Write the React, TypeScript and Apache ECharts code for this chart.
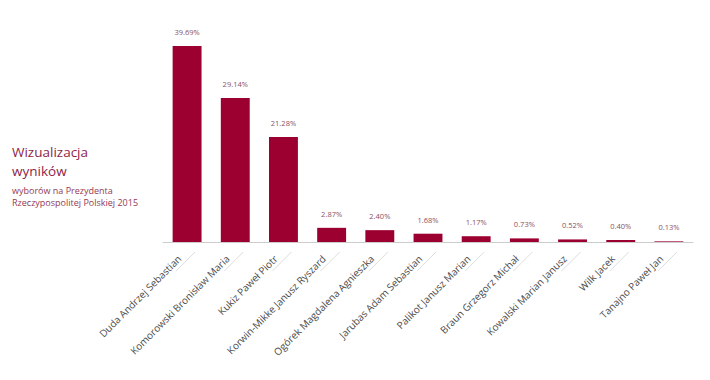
import React, { useEffect, useRef } from "react";
import * as echarts from "echarts";

const categories: string[] = [
  "Duda Andrzej Sebastian",
  "Komorowski Bronisław Maria",
  "Kukiz Paweł Piotr",
  "Korwin-Mikke Janusz Ryszard",
  "Ogórek Magdalena Agnieszka",
  "Jarubas Adam Sebastian",
  "Palikot Janusz Marian",
  "Braun Grzegorz Michał",
  "Kowalski Marian Janusz",
  "Wilk Jacek",
  "Tanajno Paweł Jan",
];

const votes: number[] = [39.69, 29.14, 21.28, 2.87, 2.4, 1.68, 1.17, 0.73, 0.52, 0.4, 0.13];

const titleLines: string[] = ["Wizualizacja", "wyników"];
const subtitleLines: string[] = ["wyborów na Prezydenta", "Rzeczypospolitej Polskiej 2015"];

const FONT = "'Open Sans', 'Noto Sans', sans-serif";

export default function App() {
  const ref = useRef<HTMLDivElement>(null);

  useEffect(() => {
    if (!ref.current) return;
    const chart = echarts.init(ref.current, undefined, { renderer: "svg" });

    const titleGraphics = titleLines.map((t, i) => ({
      type: "text",
      left: 12,
      top: 145 + i * 18.5,
      style: {
        text: t,
        fontFamily: FONT,
        fontSize: 13.5,
        fill: "#8e2448",
      },
    }));
    const subtitleGraphics = subtitleLines.map((t, i) => ({
      type: "text",
      left: 12,
      top: 185.5 + i * 12.5,
      style: {
        text: t,
        fontFamily: FONT,
        fontSize: 9,
        fill: "#933a55",
      },
    }));

    chart.setOption({
      animation: false,
      backgroundColor: "#ffffff",
      graphic: [...titleGraphics, ...subtitleGraphics],
      grid: { left: 163, right: 17, top: 46, bottom: 138 },
      xAxis: {
        type: "category",
        data: categories,
        axisLine: { lineStyle: { color: "#cccccc", width: 1 } },
        axisTick: { show: false },
        axisLabel: {
          rotate: 45,
          interval: 0,
          margin: 7,
          padding: [0, 11, 0, 0],
          fontFamily: FONT,
          fontSize: 10,
          color: "#4a4a4a",
        },
      },
      yAxis: {
        type: "value",
        min: 0,
        max: 39.69,
        show: false,
        splitLine: { show: false },
      },
      series: [
        {
          type: "bar",
          data: votes,
          barWidth: "60%",
          itemStyle: { color: "#9c0030" },
          label: {
            show: true,
            position: "top",
            distance: 10,
            fontFamily: FONT,
            fontSize: 7.5,
            color: "#8a5262",
            formatter: (p: any) => p.value.toFixed(2) + "%",
          },
        },
        {
          type: "custom",
          silent: true,
          clip: false,
          data: categories.map((_, i) => [i, 0]),
          renderItem: (_params: any, api: any) => {
            const p = api.coord([api.value(0), 0]);
            return {
              type: "line",
              shape: { x1: p[0] + 8, y1: p[1] + 10, x2: p[0] - 11, y2: p[1] + 29 },
              style: { stroke: "#dddddd", lineWidth: 1 },
            };
          },
        },
      ],
    });
    return () => chart.dispose();
  }, []);

  return (
    <div
      ref={ref}
      style={{ position: "fixed", left: 0, top: 0, width: 710, height: 380 }}
    />
  );
}
